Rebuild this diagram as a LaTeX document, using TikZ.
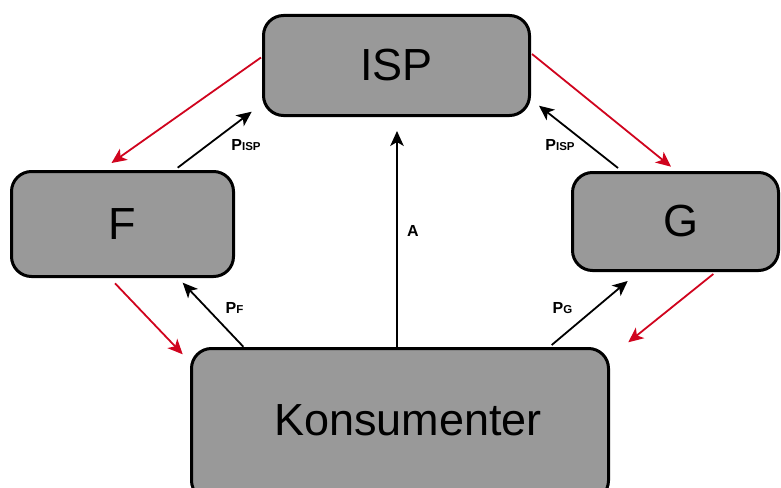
\documentclass[tikz,border=0pt]{standalone}
\usepackage{fontspec}
\setmainfont{Liberation Sans}
\usetikzlibrary{arrows.meta,calc}
\definecolor{boxgray}{RGB}{153,153,153}
\definecolor{flowred}{RGB}{208,4,30}
\tikzset{
  agent/.style={draw=black, line width=3pt, fill=boxgray, rounded corners=20pt,
    inner sep=0pt, font=\fontsize{45}{50}\selectfont},
  payarrow/.style={draw=black, line width=1.8pt, -{Stealth[length=15pt,width=13.5pt,inset=4pt]}},
  redarrow/.style={draw=flowred, line width=1.8pt, -{Stealth[length=15pt,width=13.5pt,inset=4pt]}},
  paylabel/.style={font=\bfseries\fontsize{16}{18}\selectfont, inner sep=0pt}
}
\newcommand{\sublab}[2]{#1{\fontsize{11.5}{13}\selectfont #2}}
\begin{document}
\begin{tikzpicture}[x=1pt,y=-1pt]
\useasboundingbox (0,0) rectangle (781,487);
\clip (0,0) rectangle (781,487);
\node[agent, minimum width=266pt, minimum height=100pt] (isp) at (396.5,65.5) {ISP};
\node[agent, minimum width=222pt, minimum height=105pt] (f) at (122.5,224) {F};
\node[agent, minimum width=206pt, minimum height=98pt] (g) at (675.5,221.5) {\hspace*{11pt}\raisebox{-3.5pt}{G}};
\node[agent, minimum width=417pt, minimum height=152pt, text depth=0pt] (kons) at (400,424.5) {\hspace*{16pt}\raisebox{8pt}{Konsumenter}};
% red flows
\draw[redarrow] ($(isp.west)+(-1,-8)$) -- ($(f.north)+(-11,-7)$);
\draw[redarrow] ($(isp.east)+(1,-11.5)$) -- ($(g.north)+(-4.5,-4.3)$);
\draw[redarrow] ($(f.south)+(-7.5,5.3)$) -- ($(kons.north west)+(-7.3,7.3)$);
\draw[redarrow] ($(g.south)+(37.8,2)$) -- ($(kons.north east)+(18.3,-4.7)$);
% payments
\draw[payarrow] ($(f.north)+(55.2,-2.3)$) -- ($(isp.south west)+(-10.3,-5.3)$);
\draw[payarrow] ($(g.north)+(-57.5,-3)$) -- ($(isp.south east)+(8,-11.3)$);
\draw[payarrow] ($(kons.north west)+(53.3,-0.3)$) -- ($(f.south east)+(-52.3,4.7)$);
\draw[payarrow] ($(kons.north east)+(-58.3,-2)$) -- ($(g.south west)+(56.7,9)$);
\draw[payarrow] ($(kons.north)+(-3,0)$) -- ($(isp.south)+(0.5,14)$);
% labels
\node[paylabel] (l1) at (246,145) {\sublab{P}{ISP}};
\node[paylabel] (l2) at (560,145) {\sublab{P}{ISP}};
\node[paylabel] (l3) at (234.5,308) {\sublab{P}{F}};
\node[paylabel] (l4) at (562.5,308) {\sublab{P}{G}};
\node[paylabel] (l5) at (413,231) {A};
\end{tikzpicture}
\end{document}
